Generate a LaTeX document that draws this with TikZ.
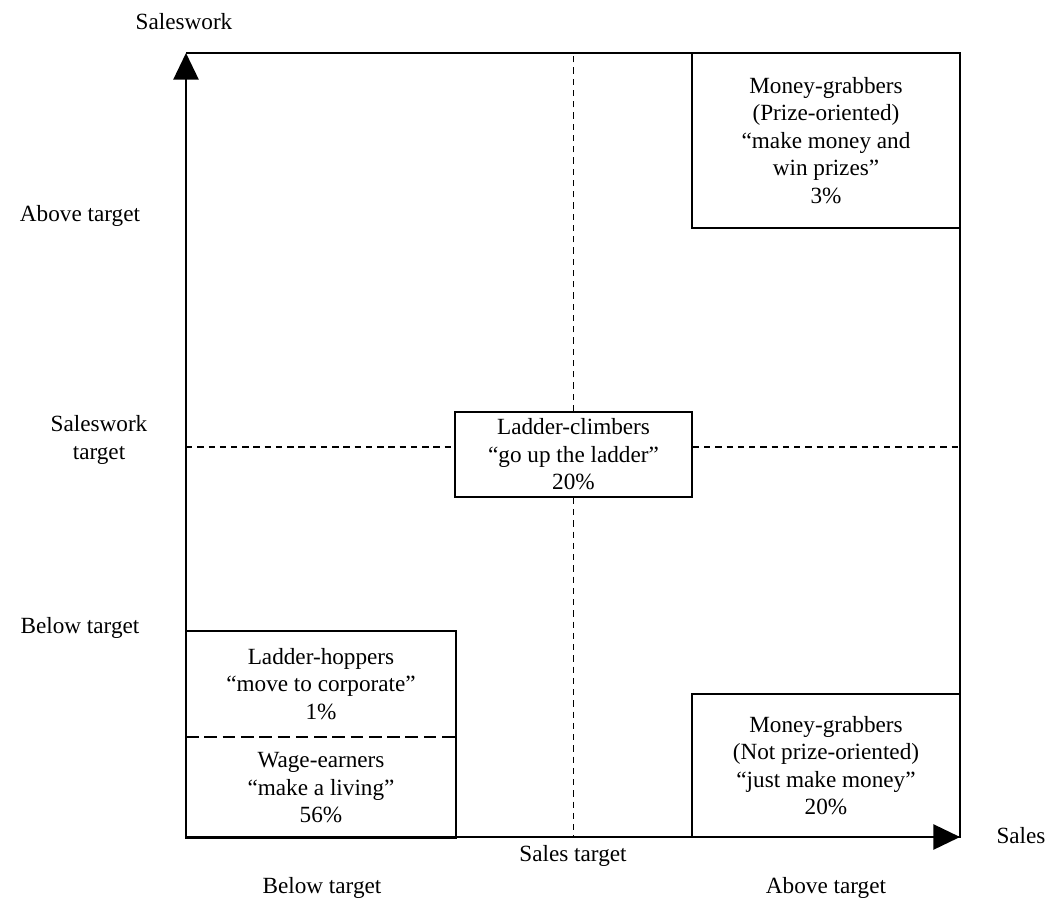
\documentclass[tikz,border=0pt]{standalone}
\usepackage{fontspec}
\setmainfont{Liberation Serif}
\usetikzlibrary{arrows.meta,positioning}
\newcommand{\quadfont}{\fontsize{16.5}{19.5}\selectfont}
\tikzset{
  quad/.style={draw,line width=1.2pt,align=center,inner sep=0pt,font=\quadfont},
  lbl/.style={align=center,font=\quadfont},
  guide/.style={line width=0.9pt,dash pattern=on 4.5pt off 3.5pt},
  frame/.style={line width=1.3pt},
  axis/.style={line width=1.3pt,-{Triangle[length=19pt,width=18pt]}}
}
\begin{document}
\begin{tikzpicture}[x=0.025cm,y=-0.025cm]
\useasboundingbox (0,0) rectangle (1054,908);
% corners of the grid
\coordinate (O) at (186,837);
\coordinate (TL) at (186,53);
\coordinate (TR) at (960,53);
\coordinate (BR) at (960,837);
\coordinate (mid) at (573,447);

% segments
\node[quad,minimum width=6.7cm,minimum height=4.375cm] (prize) at (826,140.5) {Money-grabbers\\(Prize-oriented)\\``make money and\\win prizes''\\3\%};
\node[quad,minimum width=5.925cm,minimum height=2.125cm] (climb) at (573.5,454.5) {Ladder-climbers\\``go up the ladder''\\20\%};
\node[quad,draw=none,minimum width=6.7cm,minimum height=2.6cm] (hop) at (321,684) {Ladder-hoppers\\``move to corporate''\\1\%};
\node[quad,draw=none,minimum width=6.7cm,minimum height=2.5cm,below=0pt of hop] (wage) {Wage-earners\\``make a living''\\56\%};
\node[quad,minimum width=6.7cm,minimum height=3.575cm] (noprize) at (826,765.5) {Money-grabbers\\(Not prize-oriented)\\``just make money''\\20\%};
\draw[line width=1.2pt] (hop.north west) rectangle (wage.south east);
\draw[line width=1.2pt,dash pattern=on 9pt off 4pt] (hop.south west) -- (hop.south east);

% axes and frame
\draw[axis] (O) -- (TL);
\draw[axis] (O) -- (BR);
\draw[frame] (TL) -- (TR) -- (BR);

% target lines
\draw[guide] (climb.north) -- (climb.north |- TL);
\draw[guide] (climb.south) -- (climb.south |- O);
\draw[guide] (mid -| TL) -- (mid -| climb.west);
\draw[guide] (mid -| climb.east) -- (mid -| TR);

% axis labels
\node[lbl] (yname) at (184,22) {Saleswork};
\node[lbl] (yhigh) at (80,216) {Above target};
\node[lbl] (ymid) at (99,440) {Saleswork\\target};
\node[lbl] (ylow) at (80,628) {Below target};
\node[lbl] (xname) at (1021,836) {Sales};
\node[lbl] (xmid) at (573,856) {Sales target};
\node[lbl] (xlow) at (322,888) {Below target};
\node[lbl] (xhigh) at (826,888) {Above target};
\end{tikzpicture}
\end{document}
